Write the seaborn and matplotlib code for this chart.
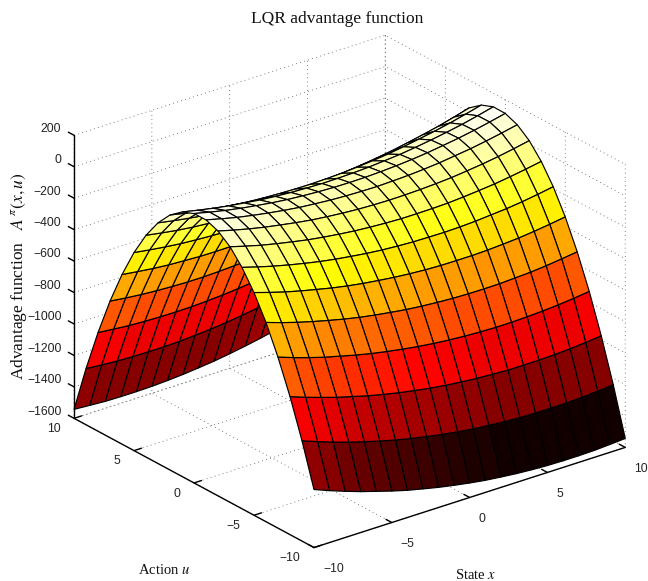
import numpy as np
import matplotlib
matplotlib.use("Agg")
import matplotlib.pyplot as plt
import seaborn as sns
from matplotlib.colors import ListedColormap, Normalize

state_x = [-10, -9, -8, -7, -6, -5, -4, -3, -2, -1, 0, 1, 2, 3, 4, 5, 6, 7, 8, 9, 10]
action_u = [-10, -9, -8, -7, -6, -5, -4, -3, -2, -1, 0, 1, 2, 3, 4, 5, 6, 7, 8, 9, 10]

u_m10 = [-1231, -1270, -1306, -1340, -1370, -1400, -1427, -1450, -1472, -1491, -1508, -1523, -1534, -1544, -1551, -1556, -1558, -1558, -1556, -1550, -1543]
u_m09 = [-962, -999, -1034, -1066, -1095, -1123, -1148, -1170, -1190, -1208, -1223, -1236, -1246, -1254, -1260, -1263, -1263, -1262, -1258, -1251, -1242]
u_m08 = [-722, -758, -791, -822, -849, -876, -899, -920, -938, -955, -968, -979, -988, -994, -999, -1000, -999, -996, -991, -982, -972]
u_m07 = [-513, -547, -579, -608, -633, -658, -680, -699, -716, -731, -743, -753, -760, -765, -768, -768, -765, -760, -753, -743, -731]
u_m06 = [-333, -366, -396, -423, -448, -471, -492, -509, -524, -538, -548, -556, -562, -565, -566, -565, -560, -555, -546, -534, -521]
u_m05 = [-184, -215, -244, -269, -292, -314, -333, -349, -362, -374, -383, -390, -394, -395, -395, -392, -386, -379, -368, -355, -340]
u_m04 = [-65, -94, -121, -145, -167, -187, -204, -218, -231, -241, -248, -253, -255, -256, -254, -249, -241, -233, -221, -206, -189]
u_m03 = [25, -3, -29, -51, -71, -90, -105, -118, -129, -137, -143, -147, -147, -146, -143, -136, -127, -117, -103, -87, -69]
u_m02 = [84, 58, 34, 13, -5, -22, -37, -48, -57, -64, -68, -70, -69, -66, -61, -54, -43, -31, -16, 2, 22]
u_m01 = [114, 89, 66, 47, 30, 15, 2, -7, -15, -20, -23, -24, -21, -17, -10, -1, 12, 25, 42, 61, 82]
u_p00 = [113, 90, 69, 51, 36, 22, 11, 3, -3, -7, -8, -7, -3, 3, 11, 22, 36, 51, 69, 90, 113]
u_p01 = [82, 61, 42, 25, 12, -1, -10, -17, -21, -24, -23, -20, -15, -7, 2, 15, 30, 47, 66, 89, 114]
u_p02 = [22, 2, -16, -31, -43, -54, -61, -66, -69, -70, -68, -64, -57, -48, -37, -22, -5, 13, 34, 58, 84]
u_p03 = [-69, -87, -103, -117, -127, -136, -143, -146, -147, -147, -143, -137, -129, -118, -105, -90, -71, -51, -29, -3, 25]
u_p04 = [-189, -206, -221, -233, -241, -249, -254, -256, -255, -253, -248, -241, -231, -218, -204, -187, -167, -145, -121, -94, -65]
u_p05 = [-340, -355, -368, -379, -386, -392, -395, -395, -394, -390, -383, -374, -362, -349, -333, -314, -292, -269, -244, -215, -184]
u_p06 = [-521, -534, -546, -555, -560, -565, -566, -565, -562, -556, -548, -538, -524, -509, -492, -471, -448, -423, -396, -366, -333]
u_p07 = [-731, -743, -753, -760, -765, -768, -768, -765, -760, -753, -743, -731, -716, -699, -680, -658, -633, -608, -579, -547, -513]
u_p08 = [-972, -982, -991, -996, -999, -1000, -999, -994, -988, -979, -968, -955, -938, -920, -899, -876, -849, -822, -791, -758, -722]
u_p09 = [-1242, -1251, -1258, -1262, -1263, -1263, -1260, -1254, -1246, -1236, -1223, -1208, -1190, -1170, -1148, -1123, -1095, -1066, -1034, -999, -962]
u_p10 = [-1543, -1550, -1556, -1558, -1558, -1556, -1551, -1544, -1534, -1523, -1508, -1491, -1472, -1450, -1427, -1400, -1370, -1340, -1306, -1270, -1231]

x_ticks = [-10, -5, 0, 5, 10]
u_ticks = [-10, -5, 0, 5, 10]
z_ticks = [-1600, -1400, -1200, -1000, -800, -600, -400, -200, 0, 200]

sns.set_theme(style="white")
plt.rcParams["font.family"] = ["Liberation Sans", "DejaVu Sans"]
plt.rcParams["mathtext.fontset"] = "stix"

Z = np.array([u_m10, u_m09, u_m08, u_m07, u_m06, u_m05, u_m04, u_m03, u_m02, u_m01, u_p00,
              u_p01, u_p02, u_p03, u_p04, u_p05, u_p06, u_p07, u_p08, u_p09, u_p10], dtype=float)
X, U = np.meshgrid(state_x, action_u)

cmap = ListedColormap(sns.color_palette("hot", 64))
face = cmap(Normalize(Z.min(), Z.max())(Z))

W, H = 648, 581
fig = plt.figure(figsize=(W / 100, H / 100), dpi=100, facecolor="white")
side, cx, cy = 640, 341, 300
ax = fig.add_axes([(cx - side / 2) / W, (H - cy - side / 2) / H, side / W, side / H],
                  projection="3d", proj_type="ortho")
ax.patch.set_alpha(0)
ax.view_init(elev=24.6, azim=-127.7)
ax.set_box_aspect((393, 392, 311), zoom=0.966)

ax.plot_surface(X, U, Z, rstride=1, cstride=1, facecolors=face, shade=False,
                edgecolor="black", linewidth=0.85, antialiased=True)

ax.set_xlim(-10, 10, view_margin=0)
ax.set_ylim(-10, 10, view_margin=0)
ax.set_zlim(-1600, 200, view_margin=0)
ax.set_xticks(x_ticks)
ax.set_yticks(u_ticks)
ax.set_zticks(z_ticks)

for axis in (ax.xaxis, ax.yaxis, ax.zaxis):
    axis.set_pane_color((1, 1, 1, 0))
    axis.pane.set_edgecolor((1, 1, 1, 0))
    axis.line.set_color("black")
    axis.line.set_linewidth(1.0)
    axis._axinfo["grid"].update(color="#555555", linewidth=0.6, linestyle=(0, (1, 4)))
    axis._axinfo["tick"].update(inward_factor=0.0, outward_factor=0.3, linewidth={True: 1.0, False: 0.5})
    axis.set_tick_params(labelsize=8.7, color="black", labelcolor="#222222", pad=1)
ax.grid(True)
ax.zaxis._get_tickdir = lambda *args: 1
ax.tick_params(axis="z", pad=-2.5)
ax.tick_params(axis="y", pad=2.5)
for t in ax.get_zticklabels():
    t.set_ha("right")
    t.set_va("bottom")
for t in ax.get_xticklabels():
    t.set_ha("left")
for t in ax.get_yticklabels():
    t.set_ha("right")
    t.set_va("bottom")

serif = ["Liberation Serif", "DejaVu Serif"]
fig.text(337 / W, 1 - 19 / H, "LQR advantage function", family=serif, fontsize=12.5,
         ha="center", va="center", color="#111111")
fig.text(164 / W, 1 - 570 / H, r"Action $u$", family=serif, fontsize=10.5, ha="center", va="center", color="#111111")
fig.text(476 / W, 1 - 575 / H, r"State $x$", family=serif, fontsize=10.5, ha="center", va="center", color="#111111")
fig.text(19 / W, 1 - 276 / H, r"Advantage function   $A^{\,\pi}(x,u)$", family=serif, fontsize=12.5,
         rotation=90, ha="center", va="center", color="#111111")

fig.savefig("out.png", dpi=100)
